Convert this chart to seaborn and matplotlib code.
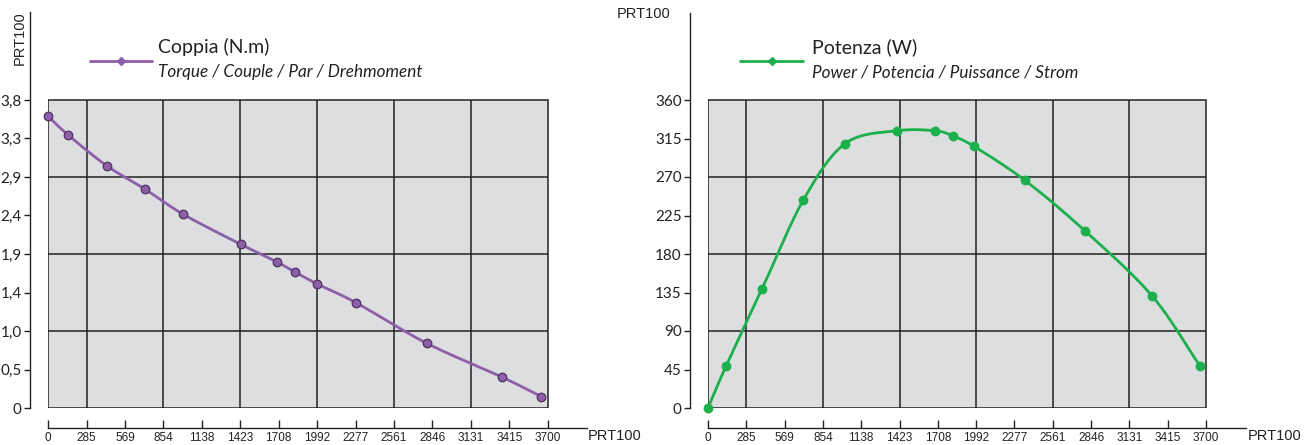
import numpy as np
import matplotlib.pyplot as plt
import seaborn as sns
from matplotlib.patches import Rectangle
from matplotlib.lines import Line2D

# rpm scale shared by both charts
rpm_ticks = [0, 285, 569, 854, 1138, 1423, 1708, 1992, 2277, 2561, 2846, 3131, 3415, 3700]

# torque curve (N.m)
torque_rpm = [0, 148, 434, 718, 1001, 1426, 1697, 1825, 1993, 2279, 2802, 3362, 3653]
torque_nm = [3.60, 3.37, 2.99, 2.70, 2.39, 2.02, 1.80, 1.68, 1.53, 1.30, 0.80, 0.38, 0.14]
torque_max = 3.8
torque_tick_labels = ["0", "0,5", "1,0", "1,4", "1,9", "2,4", "2,9", "3,3", "3,8"]

# power curve (W)
power_rpm = [0, 134, 401, 708, 1018, 1402, 1689, 1818, 1974, 2355, 2801, 3299, 3656]
power_w = [0, 49, 139, 243, 309, 324, 324, 318, 306, 266, 207, 131, 49]
power_max = 360
power_tick_labels = ["0", "45", "90", "135", "180", "225", "270", "315", "360"]

BOX = "#dddee0"
GRID = "#222222"
PURPLE = "#8e5fa9"
GREEN = "#1bb04c"


def smooth(x, y, steps=24):
    # Catmull-Rom spline through the points, only used to draw the line smoothly
    p = np.column_stack([x, y]).astype(float)
    p = np.vstack([2 * p[0] - p[1], p, 2 * p[-1] - p[-2]])
    t = np.linspace(0, 1, steps, endpoint=False)[:, None]
    out = []
    for i in range(1, len(p) - 2):
        p0, p1, p2, p3 = p[i - 1], p[i], p[i + 1], p[i + 2]
        seg = 0.5 * (2 * p1 + (-p0 + p2) * t + (2 * p0 - 5 * p1 + 4 * p2 - p3) * t ** 2
                     + (-p0 + 3 * p1 - 3 * p2 + p3) * t ** 3)
        out.append(seg)
    out.append(p[-2][None])
    out = np.vstack(out)
    return out[:, 0], out[:, 1]


def draw_panel(ax, x, y, ymax, ylabels, color, edge, xright, ytop):
    ax.set_xlim(0, xright)
    ax.set_ylim(0, ytop)
    ax.set_facecolor("white")

    ax.add_patch(Rectangle((0, 0), rpm_ticks[-1], ymax, facecolor=BOX,
                           edgecolor=GRID, lw=1.1, zorder=0.5))
    yt = np.linspace(0, ymax, len(ylabels))
    ax.vlines(rpm_ticks[1:-1:2], 0, ymax, color=GRID, lw=1.1, zorder=1)
    ax.hlines(yt[2:-1:2], 0, rpm_ticks[-1], color=GRID, lw=1.1, zorder=1)

    xs, ys = smooth(x, y)
    sns.lineplot(x=xs, y=ys, sort=False, color=color, lw=2, ax=ax, zorder=3)
    sns.scatterplot(x=x, y=y, color=color, edgecolor=edge, s=38, linewidth=0.9,
                    zorder=4, ax=ax, clip_on=False)

    for side in ["top", "right"]:
        ax.spines[side].set_visible(False)
    ax.spines["left"].set_position(("outward", 13))
    ax.spines["bottom"].set_position(("outward", 14.4))
    ax.spines["left"].set_color(GRID)
    ax.spines["bottom"].set_color(GRID)
    ax.spines["left"].set_linewidth(1)
    ax.spines["bottom"].set_linewidth(1)

    ax.set_yticks(yt, ylabels)
    ax.set_xticks(rpm_ticks, [str(v) for v in rpm_ticks])
    ax.tick_params(axis="y", left=True, direction="out", length=4, width=1, pad=2,
                   labelsize=11, colors=GRID)
    ax.tick_params(axis="x", bottom=True, direction="in", length=6, width=1, pad=3,
                   labelsize=8.5, colors=GRID)
    for lbl in ax.get_yticklabels():
        lbl.set_fontfamily("Lato")
    for lbl in ax.get_xticklabels():
        lbl.set_fontfamily("Liberation Sans")
    ax.set_xlabel("")
    ax.set_ylabel("")
    ax.grid(False)


sns.set_theme(style="white")
plt.rcParams["font.family"] = ["Lato", "DejaVu Sans"]

W, H = 1312, 445
fig = plt.figure(figsize=(W / 100, H / 100), dpi=100)

# left chart: torque
ax1 = fig.add_axes([48 / W, 37 / H, 539 / W, 396 / H])
draw_panel(ax1, torque_rpm, torque_nm, torque_max, torque_tick_labels,
           PURPLE, "#4e3360", 3990, torque_max * 396 / 308)

# right chart: power
ax2 = fig.add_axes([708 / W, 37 / H, 538 / W, 395 / H])
draw_panel(ax2, power_rpm, power_w, power_max, power_tick_labels,
           GREEN, GREEN, 3997, power_max * 395 / 308)

# axis captions
cap = dict(fontsize=10.5, family="Liberation Sans", color=GRID)
fig.text(20 / W, 1 - 38 / H, "PRT100", rotation=90, ha="center", va="center", **cap)
fig.text(617 / W, 1 - 14 / H, "PRT100", ha="left", va="center", **cap)
fig.text(588 / W, 1 - 436 / H, "PRT100", ha="left", va="center", **cap)
fig.text(1248 / W, 1 - 436 / H, "PRT100", ha="left", va="center", **cap)

# legend keys
legends = [
    (90, 152, 158, PURPLE, "Coppia (N.m)", "Torque / Couple / Par / Drehmoment"),
    (740, 803, 812, GREEN, "Potenza (W)", "Power / Potencia / Puissance / Strom"),
]
for x0, x1, xt, col, title, sub in legends:
    fig.add_artist(Line2D([x0 / W, x1 / W], [1 - 61 / H, 1 - 61 / H], color=col, lw=2,
                          transform=fig.transFigure))
    fig.add_artist(Line2D([(x0 + x1) / 2 / W], [1 - 61 / H], color=col, marker="D",
                          markersize=4.5, transform=fig.transFigure))
    fig.text(xt / W, 1 - 47 / H, title, ha="left", va="center", fontsize=14,
             color="#222222")
    fig.text(xt / W, 1 - 72 / H, sub, ha="left", va="center", fontsize=12.3,
             style="italic", color="#222222")

fig.savefig("out.png", dpi=100)
